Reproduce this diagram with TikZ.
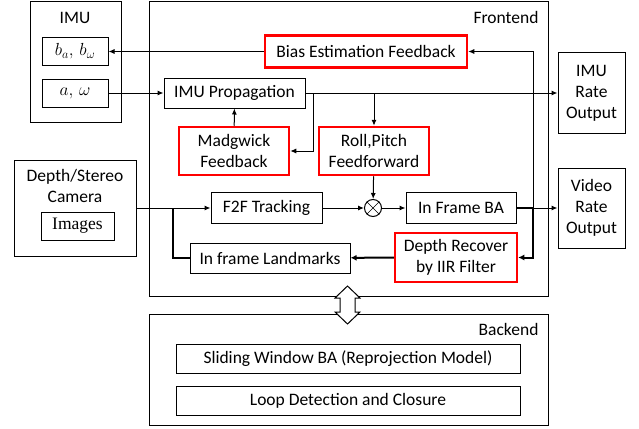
\documentclass[tikz,border=0pt]{standalone}
\usepackage{fix-cm}
\usepackage{fontspec}
\setmainfont{Carlito}
\newfontfamily\imgfont{Liberation Serif}
\usetikzlibrary{arrows.meta}

\begin{document}
\begin{tikzpicture}[x=1pt,y=-1pt,
            font=\fontsize{17.5}{21}\selectfont,
            box/.style={draw, line width=1pt, inner sep=0pt, align=center},
            red box/.style={draw=red, line width=2.5pt, inner sep=0pt, align=center},
            flow/.style={line width=1pt, -{Latex[length=6pt,width=5pt]}},
            thick flow/.style={line width=2pt, -{Latex[length=6pt,width=6pt]}},
            ]
            \useasboundingbox (0,0) rectangle (639,428);

            % containers
            \node[box, minimum width=91pt, minimum height=120pt] (imu) at (75.5,62) {};
            \node (imu title) at (75,18) {IMU};
            \node[box, minimum width=122pt, minimum height=96pt] (cam) at (75,208) {};
            \node[align=center] (cam title) at (75,186) {Depth/Stereo\\Camera};
            \node[box, minimum width=399pt, minimum height=294pt] (front) at (348.5,149) {};
            \node[anchor=east] (front title) at (542,17) {Frontend};
            \node[box, minimum width=399pt, minimum height=111pt] (back) at (348.5,369.5) {};
            \node[anchor=east] (back title) at (542,329) {Backend};

            % sensor nodes
            \node[box, minimum width=66pt, minimum height=28pt] (bw) at (75,51.5) {$b_a,\, b_\omega$};
            \node[box, minimum width=66pt, minimum height=28pt] (aw) at (75,93) {$a,\, \omega$};
            \node[box, minimum width=73pt, minimum height=28pt] (img) at (77.5,226) {\imgfont Images};

            % frontend nodes
            \node[red box, minimum width=202pt, minimum height=32pt] (bias fb) at (366,51.5) {Bias Estimation Feedback};
            \node[box, minimum width=141pt, minimum height=30pt] (prop) at (234.5,93) {IMU Propagation};
            \node[red box, minimum width=110pt, minimum height=48pt] (madg) at (234,151) {Madgwick\\Feedback};
            \node[red box, minimum width=110pt, minimum height=48pt] (roll) at (374,151) {Roll,Pitch\\Feedforward};
            \node[box, minimum width=111pt, minimum height=31pt] (f2f) at (266.5,208) {F2F Tracking};
            \node[draw, circle, line width=1pt, minimum size=17pt, inner sep=0pt] (mix) at (373,208) {};
            \node[box, minimum width=110pt, minimum height=31pt] (iba) at (461,208) {In Frame BA};
            \node[box, minimum width=160pt, minimum height=30pt] (lmk) at (270,258) {In frame Landmarks};
            \node[red box, minimum width=122pt, minimum height=49pt] (depth) at (456,257.5) {Depth Recover\\by IIR Filter};

            % outputs
            \node[box, minimum width=67pt, minimum height=81pt] (imu rate) at (591.5,93) {IMU\\Rate\\Output};
            \node[box, minimum width=67pt, minimum height=80pt] (vid rate) at (591.5,208) {Video\\Rate\\Output};

            % backend nodes
            \node[box, minimum width=344pt, minimum height=29pt] (swba) at (348,358.5) {Sliding Window BA (Reprojection Model)};
            \node[box, minimum width=344pt, minimum height=29pt] (loop) at (348,400.5) {Loop Detection and Closure};

            % link between frontend and backend
            \draw[line width=1pt, fill=white] (347.5,286) -- (360,298) -- (355,298) -- (355,312) -- (360,312)
                -- (347.5,324) -- (335,312) -- (340,312) -- (340,298) -- (335,298) -- cycle;

            % junctions
            \coordinate (tap madg) at (313,93);
            \coordinate (tap roll) at (374,93);
            \coordinate (tap ba) at (533,208);
            \coordinate (tap lmk) at (173,208);

            \draw (mix.north east) -- (mix.south west);
            \draw (mix.north west) -- (mix.south east);

            \draw[flow] (bias fb) -- (bw);
            \draw[flow] (aw) -- (prop);
            \draw[flow] (prop) -- (imu rate);
            \draw[flow] (tap madg) |- (madg);
            \draw[flow] (madg) -- (prop);
            \draw[flow] (tap roll) -- (roll);
            \draw[flow] (roll) -- (mix);
            \draw[flow] (f2f) -- (mix);
            \draw[flow] (mix) -- (iba);
            \draw[flow] (cam.east |- f2f) -- (f2f);
            \draw[line width=2pt] (iba) -- (tap ba);
            \draw[flow] (tap ba) -- (vid rate);
            \draw[flow] (tap ba) |- (bias fb);
            \draw[thick flow] (tap ba) |- (depth);
            \draw[thick flow] (depth) -- (lmk);
            \draw[line width=2pt] (lmk) -| (tap lmk);
        \end{tikzpicture}
\end{document}
